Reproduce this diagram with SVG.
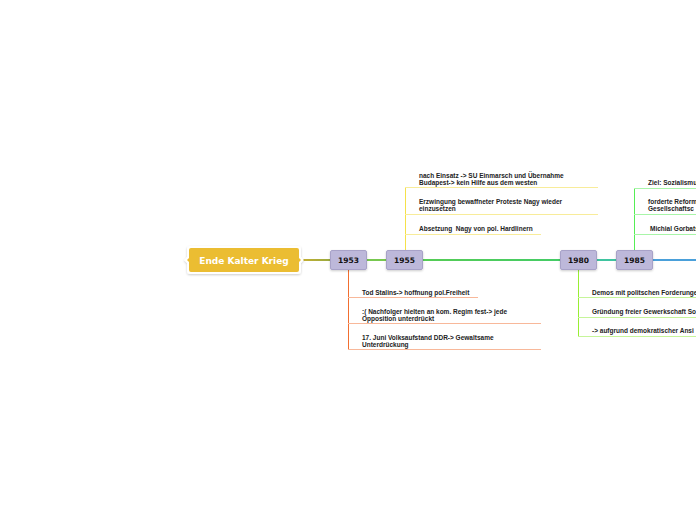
<svg xmlns="http://www.w3.org/2000/svg" width="696" height="520" viewBox="0 0 696 520">
<defs>
<style>
.t{font-family:"Liberation Sans",Arial,sans-serif;font-weight:bold;font-size:6.5px;fill:#222}
.yr{fill:#BDB8DA;stroke:#A8A2C8;stroke-width:1}
.yt{font-family:"DejaVu Sans",sans-serif;font-weight:bold;font-size:7.5px;fill:#111;text-anchor:middle}
.root{font-family:"DejaVu Sans",sans-serif;font-weight:bold;font-size:9px;fill:#fff;text-anchor:middle}
</style>
<linearGradient id="g1" x1="300" y1="0" x2="330" y2="0" gradientUnits="userSpaceOnUse"><stop offset="0" stop-color="#C8B030"/><stop offset="1" stop-color="#9AAA40"/></linearGradient>
<linearGradient id="g2" x1="423" y1="0" x2="560" y2="0" gradientUnits="userSpaceOnUse"><stop offset="0" stop-color="#55CC55"/><stop offset="1" stop-color="#44CC66"/></linearGradient>
<filter id="sh" x="-20%" y="-40%" width="140%" height="180%"><feDropShadow dx="0" dy="1" stdDeviation="1.2" flood-color="#000" flood-opacity="0.2"/></filter>
</defs>
<rect width="696" height="520" fill="#fff"/>
<g id="connectors" fill="none">
<line x1="300" y1="260" x2="330" y2="260" stroke="url(#g1)" stroke-width="2"/>
<line x1="367" y1="260" x2="386" y2="260" stroke="#77C84F" stroke-width="2"/>
<line x1="423" y1="260" x2="560" y2="260" stroke="url(#g2)" stroke-width="2"/>
<line x1="597" y1="260" x2="616" y2="260" stroke="#3FC4A0" stroke-width="2"/>
<line x1="653" y1="260" x2="696" y2="260" stroke="#4AA0DA" stroke-width="2"/>
<!-- 1953 -->
<line x1="348.5" y1="270" x2="348.5" y2="349.5" stroke="#F26F30" stroke-width="1"/>
<line x1="348" y1="297.5" x2="478" y2="297.5" stroke="#F8B89A" stroke-width="1"/>
<line x1="348" y1="323.5" x2="541" y2="323.5" stroke="#F8B89A" stroke-width="1"/>
<line x1="348" y1="349.5" x2="541" y2="349.5" stroke="#F8B89A" stroke-width="1"/>
<!-- 1955 -->
<line x1="405.5" y1="250" x2="405.5" y2="187.5" stroke="#F5E14A" stroke-width="1"/>
<line x1="405" y1="187.5" x2="598" y2="187.5" stroke="#F8EC9A" stroke-width="1"/>
<line x1="405" y1="214.5" x2="598" y2="214.5" stroke="#F8EC9A" stroke-width="1"/>
<line x1="405" y1="234.5" x2="541" y2="234.5" stroke="#F8EC9A" stroke-width="1"/>
<!-- 1980 -->
<line x1="578.5" y1="270" x2="578.5" y2="336.5" stroke="#99EE33" stroke-width="1"/>
<line x1="578" y1="297.5" x2="696" y2="297.5" stroke="#C6F59A" stroke-width="1"/>
<line x1="578" y1="317.5" x2="696" y2="317.5" stroke="#C6F59A" stroke-width="1"/>
<line x1="578" y1="336.5" x2="696" y2="336.5" stroke="#C6F59A" stroke-width="1"/>
<!-- 1985 -->
<line x1="634.5" y1="250" x2="634.5" y2="188.5" stroke="#55EE55" stroke-width="1"/>
<line x1="634" y1="188.5" x2="696" y2="188.5" stroke="#A8F5A8" stroke-width="1"/>
<line x1="634" y1="214.5" x2="696" y2="214.5" stroke="#A8F5A8" stroke-width="1"/>
<line x1="634" y1="234.5" x2="696" y2="234.5" stroke="#A8F5A8" stroke-width="1"/>
</g>
<g id="root">
<path d="M190,246 H298 Q301,246 301,249 V257 L304,260 L301,263 V271 Q301,274 298,274 H190 Q187,274 187,271 V263 L184,260 L187,257 V249 Q187,246 190,246 Z" fill="#fff" filter="url(#sh)"/>
<path d="M191,248 H297 Q299,248 299,250 V258 L301,260 L299,262 V270 Q299,272 297,272 H191 Q189,272 189,270 V262 L187,260 L189,258 V250 Q189,248 191,248 Z" fill="#EBBD32"/>
<text class="root" x="244" y="264">Ende Kalter Krieg</text>
</g>
<g id="n1953">
<rect class="yr" x="330.5" y="250.5" width="36" height="19" rx="1.5" filter="url(#sh)"/>
<text class="yt" x="348.5" y="263">1953</text>
</g>
<g id="n1955">
<rect class="yr" x="386.5" y="250.5" width="36" height="19" rx="1.5" filter="url(#sh)"/>
<text class="yt" x="404.5" y="263">1955</text>
</g>
<g id="n1980">
<rect class="yr" x="560.5" y="250.5" width="36" height="19" rx="1.5" filter="url(#sh)"/>
<text class="yt" x="578.5" y="263">1980</text>
</g>
<g id="n1985">
<rect class="yr" x="616.5" y="250.5" width="36" height="19" rx="1.5" filter="url(#sh)"/>
<text class="yt" x="634.5" y="263">1985</text>
</g>
<g id="t1953">
<text class="t" x="362" y="295">Tod Stalins-&gt; hoffnung pol.Freiheit</text>
<text class="t" x="362" y="314">:( Nachfolger hielten an kom. Regim fest-&gt; jede</text>
<text class="t" x="362" y="321">Opposition unterdrückt</text>
<text class="t" x="362" y="340">17. Juni Volksaufstand DDR-&gt; Gewaltsame</text>
<text class="t" x="362" y="347">Unterdrückung</text>
</g>
<g id="t1955">
<text class="t" x="419" y="178">nach Einsatz -&gt; SU Einmarsch und Übernahme</text>
<text class="t" x="419" y="185">Budapest-&gt; kein Hilfe aus dem westen</text>
<text class="t" x="419" y="204">Erzwingung bewaffneter Proteste Nagy wieder</text>
<text class="t" x="419" y="211">einzusetzen</text>
<text class="t" x="419" y="231">Absetzung&#160; Nagy von pol. Hardlinern</text>
</g>
<g id="t1980">
<text class="t" x="592" y="295">Demos mit politschen Forderungen</text>
<text class="t" x="592" y="314">Gründung freier Gewerkschaft So</text>
<text class="t" x="592" y="333">-&gt; aufgrund demokratischer Ansi</text>
</g>
<g id="t1985">
<text class="t" x="648" y="185">Ziel: Sozialismu</text>
<text class="t" x="648" y="204">forderte Reform</text>
<text class="t" x="648" y="211">Gesellschaftsc</text>
<text class="t" x="650" y="231">Michial Gorbats</text>
</g>
</svg>
